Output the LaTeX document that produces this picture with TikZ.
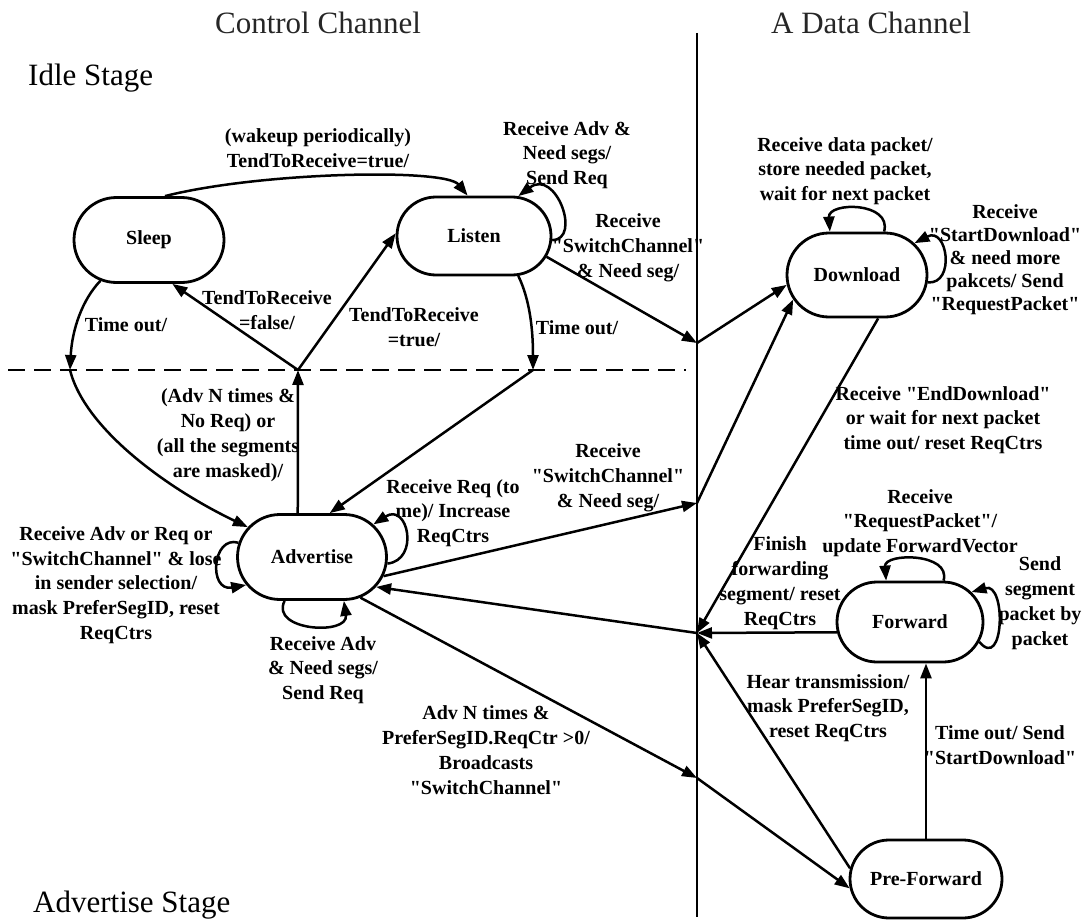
\documentclass[tikz,border=0pt]{standalone}
\usepackage{fontspec}
\setmainfont{Liberation Serif}
\usetikzlibrary{arrows.meta,shapes.misc}
\newcommand\lblfont{\fontsize{20}{24.8}\selectfont\bfseries}
\newcommand\dq{\textquotedbl}
\begin{document}
\begin{tikzpicture}[x=1pt,y=-1pt,
  state/.style={rounded rectangle, draw, line width=2.8pt, inner sep=0pt, font=\lblfont},
  conn/.style={line width=2.5pt, -{Triangle[length=15pt,width=11pt]}},
  plain/.style={line width=2.5pt},
  lab/.style={align=center, font=\lblfont, inner sep=0pt},
  title/.style={font=\fontsize{31}{36}\selectfont, inner sep=0pt}]
\useasboundingbox (0,0) rectangle (1084,923);

% titles
\node[title, text=black!85] (cc) at (318,23) {Control Channel};
\node[title, text=black!85] (dc) at (871,23) {A Data Channel};
\node[title, anchor=west] (idle) at (28,78) {Idle Stage};
\node[title, anchor=west] (advst) at (33,905) {Advertise Stage};

% states
\node[state, minimum width=150pt, minimum height=85pt] (sleep) at (149,240) {Sleep};
\node[state, minimum width=154pt, minimum height=78pt] (listen) at (474,236) {Listen};
\node[state, minimum width=140pt, minimum height=84pt] (download) at (857,275) {Download};
\node[state, minimum width=149pt, minimum height=85pt] (advertise) at (312,557) {Advertise};
\node[state, minimum width=146pt, minimum height=80pt] (forward) at (910,622) {Forward};
\node[state, minimum width=152pt, minimum height=78pt] (preforward) at (926,879) {Pre-Forward};

% separators and junctions
\coordinate (vtop) at (697,33);
\coordinate (vbot) at (697,917);
\coordinate (dl) at (8,370);
\coordinate (dr) at (686,370);
\coordinate (J1) at (697,343);
\coordinate (J2) at (697,503);
\coordinate (J3) at (697,633);
\coordinate (J4) at (697,778);
\coordinate (D1) at (70,370);
\coordinate (P1) at (298,370);
\coordinate (D2) at (533,370);

\draw[plain] (vtop) -- (vbot);
\draw[plain, dash pattern=on 17pt off 9pt] (dl) -- (dr);

% idle stage connectors
\draw[conn] (sleep.70) .. controls (260,172) and (445,168) .. (listen.99);
\draw[conn] (sleep.-140) .. controls (82,300) and (72,330) .. (D1);
\draw[conn] (D1) .. controls (85,430) and (170,490) .. (advertise.155);
\draw[conn] (P1) -- (sleep.-62);
\draw[conn] (P1) -- (listen.178);
\draw[conn] (advertise.108) -- (P1);
\draw[conn] (listen.-42) .. controls (530,300) and (533,330) .. (D2);
\draw[conn] (D2) -- (advertise.68);
\draw[conn] (listen.-3) .. controls (582,240) and (556,168) .. (listen.42);
\draw[conn] (listen.-16) -- (J1);
\draw[conn] (J1) -- (download.-172);
\draw[conn] (J2) -- (download.-159);
\draw[conn] (download.-64) -- (J3);
\draw[conn] (download.58) .. controls +(8,-30) and +(-2,-30) .. (download.122);
\draw[conn] (download.-6) .. controls +(28,2) and +(33,-17) .. (download.29);

% advertise connectors
\draw[conn] (advertise.-5) .. controls (420,560) and (408,502) .. (advertise.28);
\draw[conn] (advertise.169) .. controls (212,535) and (208,592) .. (advertise.-157);
\draw[conn] (advertise.-122) .. controls +(-15,30) and +(5,35) .. (advertise.-54);
\draw[conn] (advertise.-15) -- (J2);
\draw[conn] (J3) -- (advertise.-25);
\draw[conn] (advertise.-40) -- (J4);
\draw[conn] (J4) -- (preforward.187);

% forward connectors
\draw[conn] (forward.51) .. controls +(8,-28) and +(-2,-28) .. (forward.120);
\draw[conn] (forward.-16) .. controls +(25,30) and +(35,-10) .. (forward.26);
\draw[conn] (forward.188) -- (J3);
\draw[conn] (preforward.north) -- (forward.south -| preforward.north);
\draw[conn] (preforward.172) -- (J3);

% labels
\node[lab] (t1) at (318,148) {(wakeup periodically)\\TendToReceive=true/};
\node[lab] (t2) at (126,325) {Time out/};
\node[lab] (t3) at (267,310) {TendToReceive\\=false/};
\node[lab] (t4) at (414,327) {TendToReceive\\=true/};
\node[lab] (t5) at (577,328) {Time out/};
\node[lab] (t6) at (567,155) {Receive Adv \&\\Need segs/\\Send Req};
\node[lab] (t7) at (628,248) {Receive\\\dq SwitchChannel\dq\\\& Need seg/};
\node[lab] (t8) at (845,171) {Receive data packet/\\store needed packet,\\wait for next packet};
\node[lab, font=\fontsize{20}{23}\selectfont\bfseries] (t9) at (1005,260) {Receive\\\dq StartDownload\dq\\\& need more\\pakcets/ Send\\\dq RequestPacket\dq};
\node[lab] (t10) at (943,420) {Receive \dq EndDownload\dq\\or wait for next packet\\time out/ reset ReqCtrs};
\node[lab] (t11) at (228,435) {(Adv N times \&\\No Req) or\\(all the segments\\are masked)/};
\node[lab] (t12) at (453,513) {Receive Req (to\\me)/ Increase\\ReqCtrs};
\node[lab] (t13) at (608,478) {Receive\\\dq SwitchChannel\dq\\\& Need seg/};
\node[lab] (t14) at (920,523) {Receive\\\dq RequestPacket\dq/\\update ForwardVector};
\node[lab] (t15) at (1040,603) {Send\\segment\\packet by\\packet};
\node[lab] (t16) at (780,583) {Finish\\forwarding\\segment/ reset\\ReqCtrs};
\node[lab] (t17) at (116,585) {Receive Adv or Req or\\\dq SwitchChannel\dq\ \& lose\\in sender selection/\\mask PreferSegID, reset\\ReqCtrs};
\node[lab] (t18) at (323,670) {Receive Adv\\\& Need segs/\\Send Req};
\node[lab] (t19) at (486,750) {Adv N times \&\\PreferSegID.ReqCtr >0/\\Broadcasts\\\dq SwitchChannel\dq};
\node[lab] (t20) at (828,708) {Hear transmission/\\mask PreferSegID,\\reset ReqCtrs};
\node[lab] (t21) at (1000,745) {Time out/ Send\\\dq StartDownload\dq};
\end{tikzpicture}
\end{document}
